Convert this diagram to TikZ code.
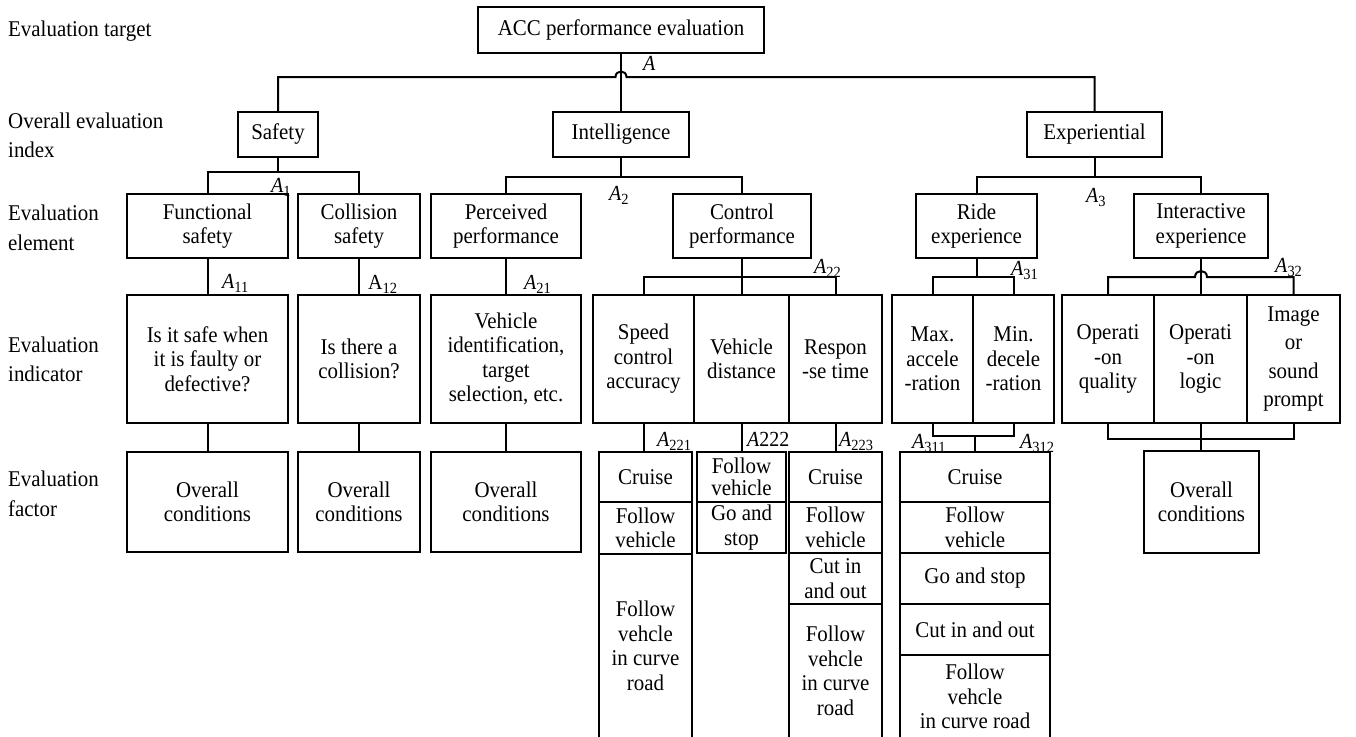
\documentclass[tikz,border=0pt]{standalone}
\usepackage{fontspec}
\setmainfont{Liberation Serif}[FakeStretch=0.93]
\newcommand\bxfont{\fontsize{22.5}{24.5}\selectfont}
\newcommand\rowfont{\fontsize{22.5}{29.5}\selectfont}
\newcommand\labfont{\fontsize{21.5}{24}\selectfont}
\newcommand\Asub[1]{\textit{A}\raisebox{-4pt}{\fontsize{15.5}{15.5}\selectfont #1}}
\tikzset{
  bx/.style={draw, line width=1.3pt, inner sep=0pt, align=center, font=\bxfont},
  sz/.style 2 args={minimum width=#1pt, minimum height=#2pt},
  conn/.style={line width=2pt},
  lab/.style={inner sep=0pt, anchor=base west, font=\labfont},
  rowlab/.style={inner sep=0pt, anchor=north west, align=left, font=\rowfont},
}
\begin{document}
\begin{tikzpicture}[x=1pt, y=-1pt]
\useasboundingbox (0,0) rectangle (1356,736);

% row labels
\node[rowlab] (lt) at (8,21) {Evaluation target};
\node[rowlab] (lo) at (8,112.5) {Overall evaluation\\index};
\node[rowlab] (le) at (8,205) {Evaluation\\element};
\node[rowlab] (li) at (8,336.5) {Evaluation\\indicator};
\node[rowlab] (lf) at (8,471) {Evaluation\\factor};

% target / index
\node[bx, sz={286}{46}] (acc) at (621,30) {ACC performance evaluation};
\node[bx, sz={80}{45}] (saf) at (278,134.5) {Safety};
\node[bx, sz={136}{45}] (intl) at (621,134.5) {Intelligence};
\node[bx, sz={135}{45}] (exp) at (1094.5,134.5) {Experiential};

% elements
\node[bx, sz={161}{64}] (fs) at (207.5,226) {Functional\\safety};
\node[bx, sz={122}{64}] (cs) at (359,226) {Collision\\safety};
\node[bx, sz={150}{64}] (pp) at (506,226) {Perceived\\performance};
\node[bx, sz={138}{64}] (cp) at (742,226) {Control\\performance};
\node[bx, sz={121}{64}] (re) at (976.5,226) {Ride\\experience};
\node[bx, sz={134}{64}] (ie) at (1201,226) {Interactive\\experience};

% indicators
\node[bx, sz={161}{128}] (i1) at (207.5,359) {Is it safe when\\it is faulty or\\defective?};
\node[bx, sz={122}{128}] (i2) at (359,359) {Is there a\\collision?};
\node[bx, sz={150}{128}] (i3) at (506,359) {Vehicle\\identification,\\target\\selection, etc.};
\node[bx, sz={101}{128}] (sp) at (643.5,359) {Speed\\control\\accuracy};
\node[bx, sz={95}{128}] (vd) at (741.5,359) {Vehicle\\distance};
\node[bx, sz={93}{128}] (rs) at (835.5,359) {Respon\\-se time};
\node[bx, sz={81}{128}] (mx) at (932.5,359) {Max.\\accele\\-ration};
\node[bx, sz={81}{128}] (mn) at (1013.5,359) {Min.\\decele\\-ration};
\node[bx, sz={92}{128}] (oq) at (1108,359) {Operati\\-on\\quality};
\node[bx, sz={93}{128}] (ol) at (1200.5,359) {Operati\\-on\\logic};
\node[bx, sz={93}{128}] (ip) at (1293.5,359) {Image\\[4pt]or\\[4pt]sound\\[4pt]prompt};

% factors
\node[bx, sz={161}{100}] (f1) at (207.5,502) {Overall\\conditions};
\node[bx, sz={122}{100}] (f2) at (359,502) {Overall\\conditions};
\node[bx, sz={150}{100}] (f3) at (506,502) {Overall\\conditions};

\node[bx, sz={93}{50}] (s1) at (645.5,477) {Cruise};
\node[bx, sz={93}{52}] (s2) at (645.5,528) {Follow\\vehicle};
\node[bx, sz={93}{184}] (s3) at (645.5,646) {Follow\\vehcle\\in curve\\road};

\node[bx, sz={89}{50}] (v1) at (741.5,477) {Follow\\[-2pt]vehicle};
\node[bx, sz={89}{51}] (v2) at (741.5,527.5) {Go and\\stop};

\node[bx, sz={93}{50}] (r1) at (835.5,477) {Cruise};
\node[bx, sz={93}{51}] (r2) at (835.5,527.5) {Follow\\vehicle};
\node[bx, sz={93}{51}] (r3) at (835.5,578.5) {Cut in\\and out};
\node[bx, sz={93}{134}] (r4) at (835.5,671) {Follow\\vehcle\\in curve\\road};

\node[bx, sz={150}{50}] (d1) at (975,477) {Cruise};
\node[bx, sz={150}{51}] (d2) at (975,527.5) {Follow\\vehicle};
\node[bx, sz={150}{51}] (d3) at (975,578.5) {Go and stop};
\node[bx, sz={150}{51}] (d4) at (975,629.5) {Cut in and out};
\node[bx, sz={150}{83}] (d5) at (975,696.5) {Follow\\vehcle\\in curve road};

\node[bx, sz={115}{102}] (oc) at (1201.5,502) {Overall\\conditions};

% connectors: level 1
\coordinate (tbL) at (615.5,77);
\coordinate (tbR) at (626.5,77);
\draw[conn] (acc.south) -- (intl.north);
\draw[conn] (saf.north) |- (tbL) .. controls (615.5,69.7) and (626.5,69.7) .. (tbR) -| (exp.north);

% level 2
\coordinate (b1) at (278,172);
\coordinate (b2) at (621,177);
\coordinate (b3) at (1094.5,177);
\draw[conn] (saf.south) -- (b1);
\draw[conn] (fs.north) |- (b1) -| (cs.north);
\draw[conn] (intl.south) -- (b2);
\draw[conn] (pp.north) |- (b2) -| (cp.north);
\draw[conn] (exp.south) -- (b3);
\draw[conn] (re.north) |- (b3) -| (ie.north);

% level 3
\draw[conn] (fs.south) -- (i1.north);
\draw[conn] (cs.south) -- (i2.north);
\draw[conn] (pp.south) -- (i3.north);
\coordinate (b22) at (742,277);
\draw[conn] (cp.south) -- (cp.south |- vd.north);
\draw[conn] (sp.north) |- (b22) -| (rs.north);
\coordinate (b31) at (976.5,277);
\draw[conn] (re.south) -- (b31);
\draw[conn] (mx.north) |- (b31) -| (mn.north);
\coordinate (ihL) at (1195,277);
\coordinate (ihR) at (1207,277);
\draw[conn] (ie.south) -- (ie.south |- ol.north);
\draw[conn] (oq.north) |- (ihL) .. controls (1195,269) and (1207,269) .. (ihR) -| (ip.north);

% level 4
\draw[conn] (i1.south) -- (f1.north);
\draw[conn] (i2.south) -- (f2.north);
\draw[conn] (i3.south) -- (f3.north);
\draw[conn] (sp.south) -- (sp.south |- s1.north);
\draw[conn] (vd.south) -- (v1.north);
\draw[conn] (rs.south) -- (r1.north);
\coordinate (b312) at (975,436);
\draw[conn] (mx.south) |- (b312) -| (mn.south);
\draw[conn] (b312) -- (d1.north);
\coordinate (b32) at (1200.5,439);
\draw[conn] (oq.south) |- (b32) -| (ip.south);
\draw[conn] (ol.south) -- (ol.south |- oc.north);

% weight labels
\node[lab] (la) at (643,70) {\textit{A}};
\node[lab] (la1) at (271,192) {\Asub{1}};
\node[lab] (la11) at (222,288) {\Asub{11}};
\node[lab] (la12) at (368,289) {A\raisebox{-4pt}{\fontsize{15.5}{15.5}\selectfont 12}};
\node[lab] (la21) at (524,289) {\Asub{21}};
\node[lab] (la2) at (609,200) {\Asub{2}};
\node[lab] (la22) at (814,273) {\Asub{22}};
\node[lab] (la3) at (1086,202) {\Asub{3}};
\node[lab] (la31) at (1011,275) {\Asub{31}};
\node[lab] (la32) at (1275,272) {\Asub{32}};
\node[lab] (la221) at (657,446) {\Asub{221}};
\node[lab] (la222) at (747,446) {\textit{A}222};
\node[lab] (la223) at (839,446) {\Asub{223}};
\node[lab] (la311) at (912,448) {\Asub{311}};
\node[lab] (la312) at (1020,448) {\Asub{312}};
\end{tikzpicture}
\end{document}
